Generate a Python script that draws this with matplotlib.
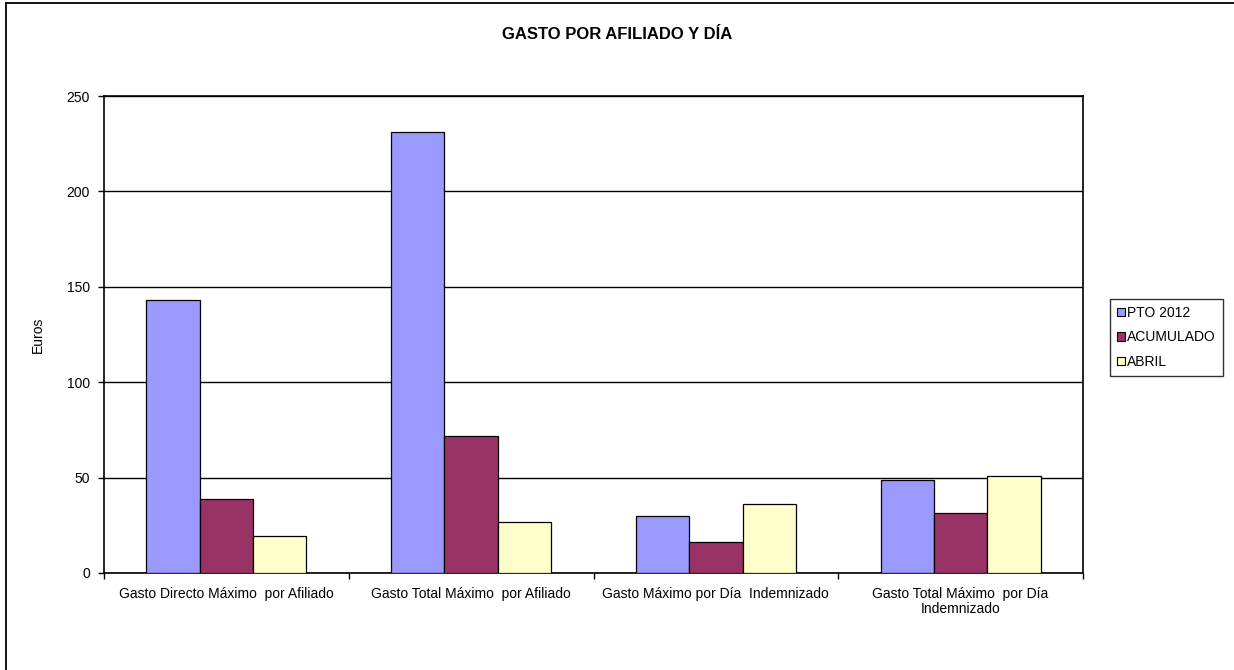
import matplotlib
matplotlib.use("Agg")
import matplotlib.pyplot as plt
import numpy as np
from matplotlib.lines import Line2D
from matplotlib.patches import Patch

plt.rcParams['font.family'] = ['Liberation Sans', 'DejaVu Sans']

categories = ["Gasto Directo Máximo  por Afiliado",
              "Gasto Total Máximo  por Afiliado",
              "Gasto Máximo por Día  Indemnizado",
              "Gasto Total Máximo  por Día\nIndemnizado"]
series_names = ["PTO 2012", "ACUMULADO", "ABRIL"]
pto_2012 = [143.2, 231.1, 30.0, 48.7]
acumulado = [39.0, 71.9, 16.5, 31.2]
abril = [19.6, 26.9, 36.1, 50.6]
colors = ["#9999FF", "#993366", "#FFFFCC"]
yticks = [0, 50, 100, 150, 200, 250]

W, H = 1234, 670
fig = plt.figure(figsize=(W / 100, H / 100), dpi=100)
ax = fig.add_axes([104 / W, 1 - 573 / H, (1083 - 104) / W, (573 - 96) / H])

x = np.arange(len(categories))
bw = 0.2177
for k, (vals, col) in enumerate(zip([pto_2012, acumulado, abril], colors)):
    ax.bar(x + (k - 1) * bw, vals, width=bw, color=col, edgecolor='black',
           linewidth=0.9, zorder=3)

ax.set_xlim(-0.5, len(categories) - 0.5)
ax.set_ylim(0, 250)
ax.set_yticks(yticks)
ax.set_yticklabels([str(v) for v in yticks], fontsize=10)
ax.yaxis.grid(True, color='black', linewidth=1.0, zorder=0)
ax.set_axisbelow(True)

ax.set_xticks(np.arange(len(categories) + 1) - 0.5)
ax.set_xticklabels([])
ax.set_xticks(x, minor=True)
ax.set_xticklabels(categories, minor=True, fontsize=10, linespacing=1.1)
ax.tick_params(axis='x', which='minor', length=0, pad=10)
ax.tick_params(axis='x', which='major', length=4, width=1, direction='out')
ax.tick_params(axis='y', length=4, width=1, direction='out', pad=6)
for s in ax.spines.values():
    s.set_color('black')
    s.set_linewidth(1.2)

ax.set_ylabel("Euros", fontsize=10, labelpad=16)

fig.text(617 / W, 1 - 34.5 / H, "GASTO POR AFILIADO Y DÍA", fontsize=12,
         fontweight='bold', ha='center', va='center')

handles = [Patch(facecolor=c, edgecolor='black', linewidth=0.8) for c in colors]
leg = fig.legend(handles, series_names, loc='upper left',
                 bbox_to_anchor=(1110 / W, 1 - 299 / H), fontsize=10,
                 frameon=True, fancybox=False, edgecolor='black',
                 handlelength=0.55, handleheight=0.55, handletextpad=0.2,
                 borderpad=0.5, labelspacing=0.75, borderaxespad=0)
leg.get_frame().set_linewidth(1.0)

fig.add_artist(Line2D([6 / W, 6 / W], [0, 1 - 3 / H], color='black', linewidth=1.3,
                      transform=fig.transFigure))
fig.add_artist(Line2D([6 / W, 1], [1 - 3 / H, 1 - 3 / H], color='black', linewidth=1.3,
                      transform=fig.transFigure))

fig.savefig("out.png", dpi=100)
